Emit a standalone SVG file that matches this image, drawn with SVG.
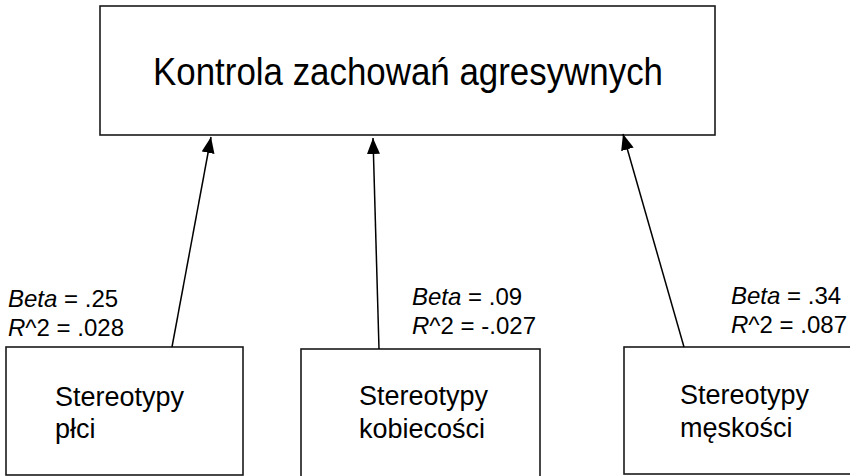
<svg xmlns="http://www.w3.org/2000/svg" width="850" height="476" viewBox="0 0 850 476">
<style>
.box{fill:#fff;stroke:#1a1a1a;stroke-width:1.6}
.t{font-family:"Liberation Sans",Arial,sans-serif;fill:#000}
.node{font-size:27px}
.lab{font-size:24px}
.conn{stroke:#000;stroke-width:1.5;fill:none}
</style>
<defs>
<marker id="ah" viewBox="0 0 16 13" refX="16" refY="6.5" markerWidth="16" markerHeight="13" markerUnits="userSpaceOnUse" orient="auto">
<path d="M0,0 L16,6.5 L0,13 Z" fill="#000"/>
</marker>
</defs>
<rect width="850" height="476" fill="#fff"/>
<g id="top">
<rect class="box" x="100" y="6" width="615" height="129"/>
<text class="t" x="408" y="85" font-size="38" text-anchor="middle" textLength="510" lengthAdjust="spacingAndGlyphs">Kontrola zachowań agresywnych</text>
</g>
<g id="n1">
<rect class="box" x="6" y="347" width="237" height="128"/>
<text class="t node" x="55" y="406">Stereotypy</text>
<text class="t node" x="55" y="438">płci</text>
</g>
<g id="n2">
<rect class="box" x="301" y="349" width="239" height="140"/>
<text class="t node" x="359" y="405">Stereotypy</text>
<text class="t node" x="359" y="438">kobiecości</text>
</g>
<g id="n3">
<rect class="box" x="624" y="347" width="240" height="127"/>
<text class="t node" x="680" y="404">Stereotypy</text>
<text class="t node" x="680" y="437">męskości</text>
</g>
<g id="connectors">
<line class="conn" x1="172" y1="347" x2="211" y2="137" marker-end="url(#ah)"/>
<line class="conn" x1="379" y1="349" x2="373" y2="138" marker-end="url(#ah)"/>
<line class="conn" x1="684" y1="347" x2="623" y2="134" marker-end="url(#ah)"/>
</g>
<g id="labels">
<text class="t lab" x="8" y="307"><tspan font-style="italic">Beta</tspan> = .25</text>
<text class="t lab" x="8" y="336"><tspan font-style="italic">R</tspan>^2 = .028</text>
<text class="t lab" x="412" y="305"><tspan font-style="italic">Beta</tspan> = .09</text>
<text class="t lab" x="412" y="334"><tspan font-style="italic">R</tspan>^2 = -.027</text>
<text class="t lab" x="731" y="304"><tspan font-style="italic">Beta</tspan> = .34</text>
<text class="t lab" x="731" y="333"><tspan font-style="italic">R</tspan>^2 = .087</text>
</g>
</svg>
